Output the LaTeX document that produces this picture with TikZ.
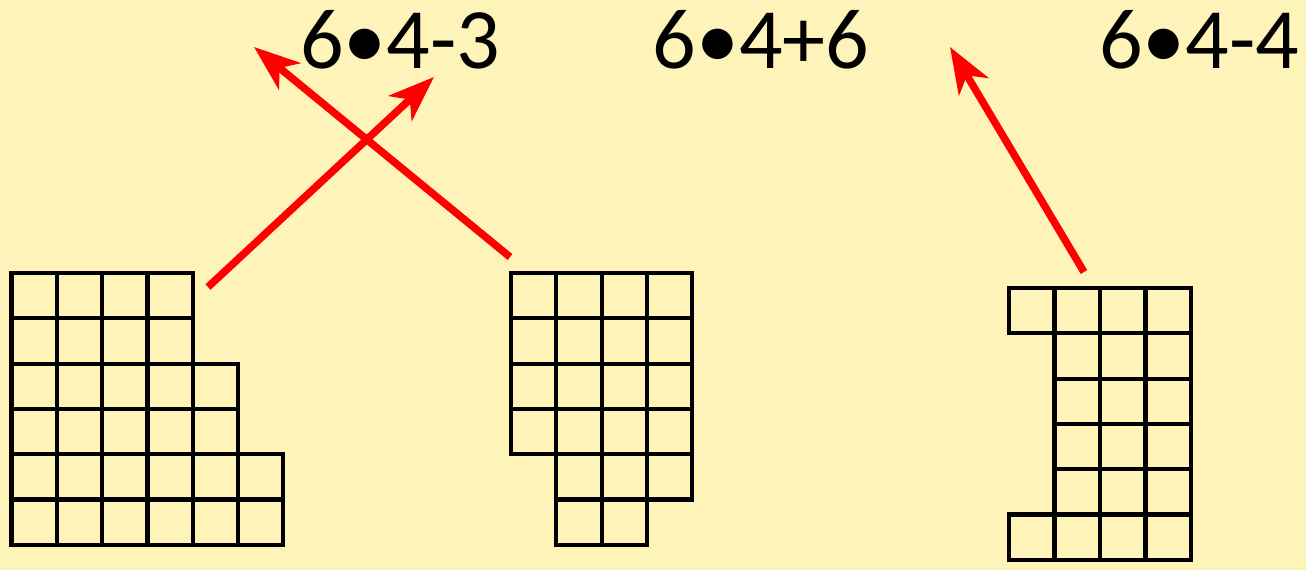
\documentclass[tikz,border=0pt]{standalone}
\usepackage{fontspec}
\setmainfont{Carlito}
\usetikzlibrary{arrows.meta}
\definecolor{bgyellow}{RGB}{254,243,184}
\definecolor{arrowred}{RGB}{255,0,0}
\tikzset{
  cell/.style={draw=black,line width=4.2pt,line join=miter},
  redarrow/.style={draw=arrowred,line width=7.5pt,-{Stealth[length=46pt,width=34pt,inset=13pt]}},
  expr/.style={font=\fontsize{86}{86}\selectfont,anchor=base,inner sep=0pt}
}
\begin{document}
\begin{tikzpicture}[x=1pt,y=-1pt]
\fill[bgyellow] (0,0) rectangle (1306,570);
\useasboundingbox (0,0) rectangle (1306,570);
% labels
\node[expr] (t1) at (400,68) {6•4-3};
\node[expr] (t2) at (761,68) {6•4+6};
\node[expr] (t3) at (1199,68) {6•4-4};
% grid 1
\def\s{45.3}
\foreach \r/\n in {0/3,1/3,2/4,3/4,4/5,5/5}{
  \foreach \c in {0,...,\n}{
    \draw[cell] ({11.5+\c*\s},{273+\r*\s}) rectangle ++(\s,\s);
  }
}
% grid 2
\foreach \r/\a/\b in {0/0/3,1/0/3,2/0/3,3/0/3,4/1/3,5/1/2}{
  \foreach \c in {\a,...,\b}{
    \draw[cell] ({511+\c*\s},{273+\r*\s}) rectangle ++(\s,\s);
  }
}
% grid 3
\def\t{45.5}
\foreach \r/\a/\b in {0/0/3,1/1/3,2/1/3,3/1/3,4/1/3,5/0/3}{
  \foreach \c in {\a,...,\b}{
    \draw[cell] ({1009+\c*\t},{288+\r*45.3}) rectangle ++(\t,45.3);
  }
}
% arrow end points
\coordinate (a1s) at (208,287);
\coordinate (a1e) at (434,77);
\coordinate (a2s) at (510,257);
\coordinate (a2e) at (254,47);
\coordinate (a3s) at (1084,272);
\coordinate (a3e) at (950,47);
\draw[redarrow] (a1s) -- (a1e);
\draw[redarrow] (a2s) -- (a2e);
\draw[redarrow] (a3s) -- (a3e);
\end{tikzpicture}
\end{document}
